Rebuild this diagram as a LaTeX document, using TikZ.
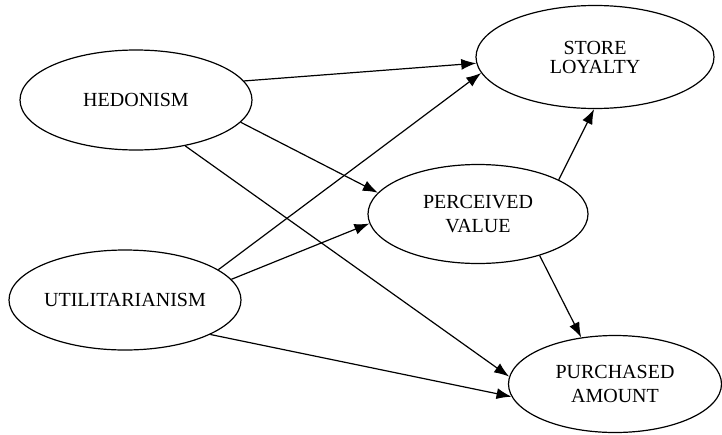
\documentclass[tikz,border=0pt]{standalone}
\usepackage{fontspec}
\setmainfont{Liberation Serif}
\usetikzlibrary{arrows.meta,shapes.geometric}

\tikzset{
    construct/.style={ellipse, draw, line width=0.6pt, inner sep=0pt, align=center,
        font=\fontsize{10}{12}\selectfont},
    effect/.style={black, line width=0.6pt, -{Latex[length=7.5pt,width=5.5pt]}}
}

\begin{document}
\begin{tikzpicture}[x=0.5pt,y=-0.5pt]
    \useasboundingbox (0,0) rectangle (722,434);
    % constructs
    \node[construct, minimum width=116pt, minimum height=50pt] (hed) at (136,100) {HEDONISM};
    \node[construct, minimum width=116pt, minimum height=50pt] (util) at (125,300) {UTILITARIANISM};
    \node[construct, minimum width=119pt, minimum height=51.5pt] (loy) at (595,57) {STORE\\[-2.5pt]LOYALTY};
    \node[construct, minimum width=110pt, minimum height=49.5pt] (val) at (478,214) {PERCEIVED\\VALUE};
    \node[construct, minimum width=106.5pt, minimum height=48.5pt] (amt) at (615,384) {PURCHASED\\AMOUNT};
    % paths
    \draw[effect] (hed.10.6) -- (loy.183.4);
    \draw[effect] (hed.348) -- (val.168.4);
    \draw[effect] (hed.317) -- (amt.176);
    \draw[effect] (util.18.8) -- (loy.188.7);
    \draw[effect] (util.11) -- (val.185);
    \draw[effect] (util.338) -- (amt.187.5);
    \draw[effect] (val.23.6) -- (loy.269);
    \draw[effect] (val.326.5) -- (amt.126);
\end{tikzpicture}
\end{document}
